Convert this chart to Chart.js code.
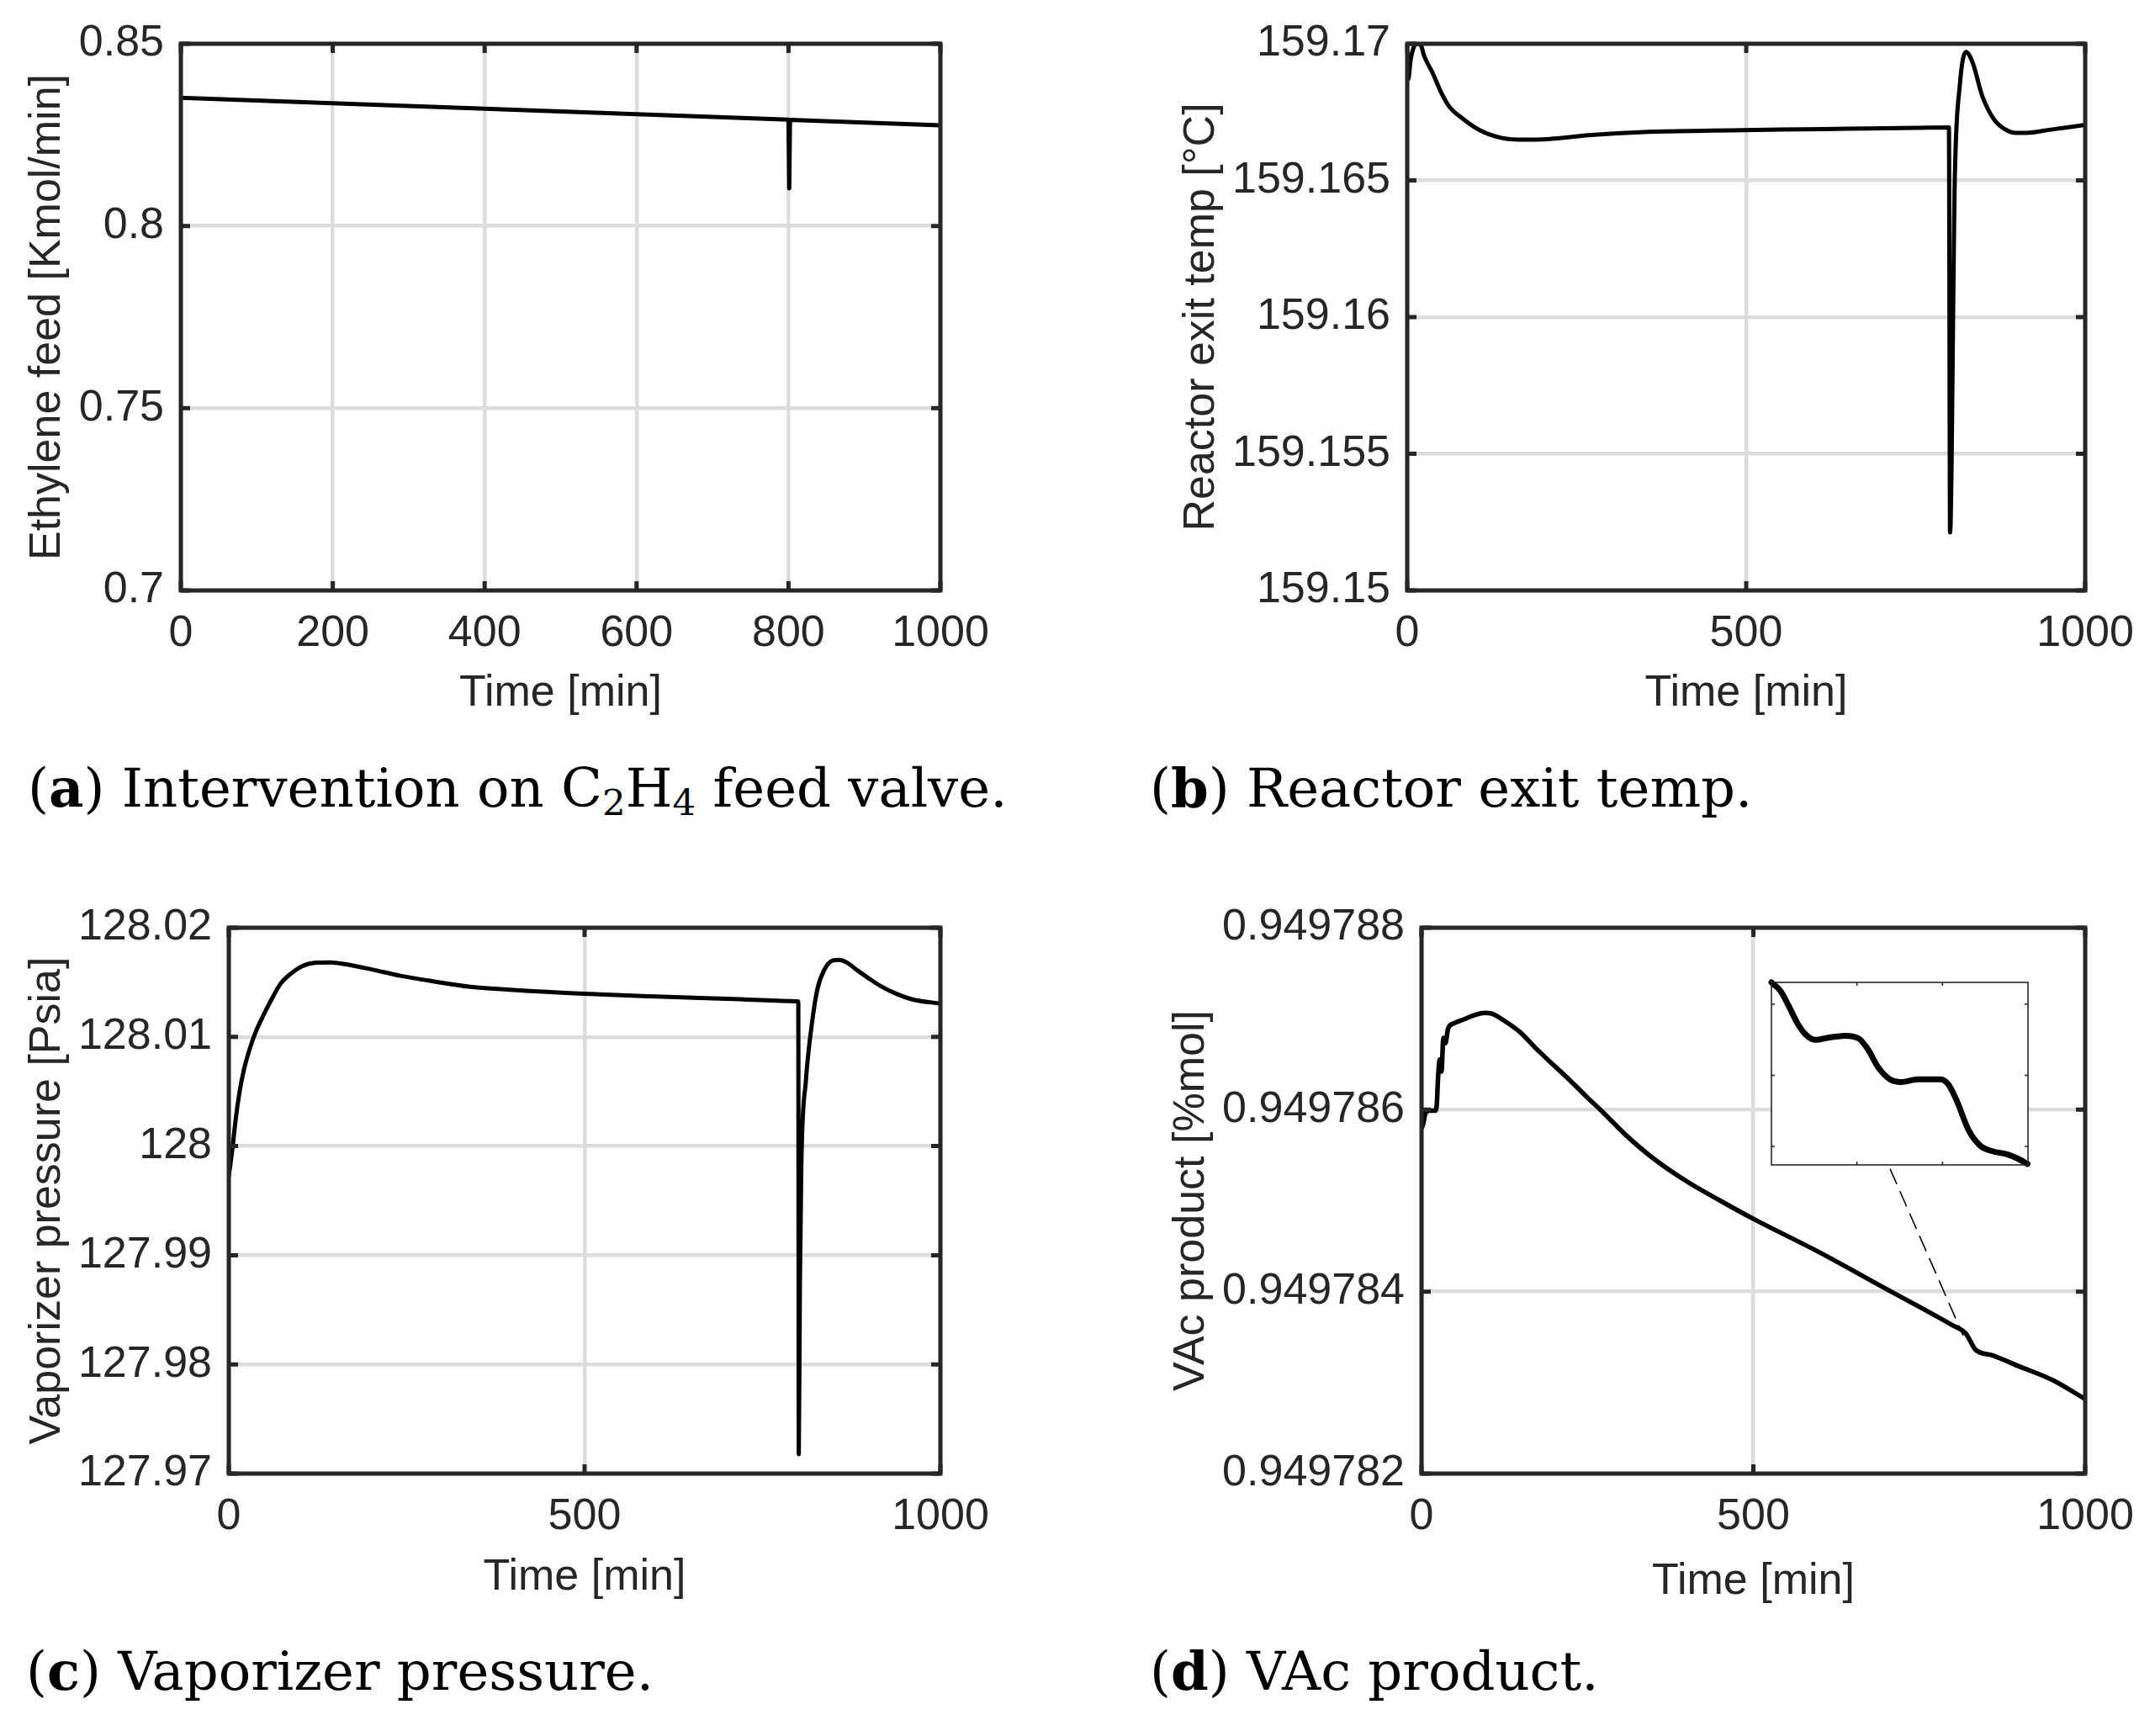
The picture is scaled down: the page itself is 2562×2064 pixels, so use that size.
<!DOCTYPE html>
<html>
<head>
<meta charset="utf-8">
<script src="https://cdn.jsdelivr.net/npm/chart.js@4.4.0/dist/chart.umd.min.js"></script>
<style>
  html, body { margin: 0; padding: 0; background: #fff; }
  body { width: 2562px; height: 2064px; position: relative; overflow: hidden; }
  canvas { position: absolute; }
  .cap { position: absolute; font-family: "DejaVu Serif", serif; font-size: 64px; line-height: 64px; color: #000; white-space: nowrap; }
  .cap sub { font-size: 0.68em; vertical-align: -0.22em; line-height: 0; }
</style>
</head>
<body>
<canvas id="cA"></canvas>
<canvas id="cB"></canvas>
<canvas id="cC"></canvas>
<canvas id="cD"></canvas>
<canvas id="cInset"></canvas>
<div class="cap" id="capA">(<b>a</b>) Intervention on C<sub>2</sub>H<sub>4</sub> feed valve.</div>
<div class="cap" id="capB">(<b>b</b>) Reactor exit temp.</div>
<div class="cap" id="capC">(<b>c</b>) Vaporizer pressure.</div>
<div class="cap" id="capD">(<b>d</b>) VAc product.</div>
<script>
// ---------------- DATA ----------------
// (a) Ethylene feed [Kmol/min]
const timeA = [0, 200, 400, 600, 800, 801, 802, 1000];
const feedA = [0.8352, 0.8337, 0.8322, 0.8307, 0.8292, 0.8103, 0.8291, 0.8276];
const xTicksA = [0, 200, 400, 600, 800, 1000];
const xLabelsA = ['0', '200', '400', '600', '800', '1000'];
const yTicksA = [0.7, 0.75, 0.8, 0.85];
const yLabelsA = ['0.7', '0.75', '0.8', '0.85'];

// (b) Reactor exit temp [°C]
const timeB = [0, 1.5, 5, 10, 15, 20, 25, 37.5, 50, 62, 83, 107.5, 140, 173, 206, 272, 355, 450, 550, 650, 750, 799,
               800.7, 807.7, 815, 824, 834, 848, 865, 881, 898, 914, 947, 1000];
const tempB = [159.1697, 159.1687, 159.1694, 159.1699, 159.1700, 159.16995, 159.16955, 159.16893, 159.16822, 159.1677,
               159.16724, 159.16683, 159.16655, 159.16649, 159.16651, 159.16666, 159.16678, 159.16682, 159.16686,
               159.16689, 159.16692, 159.16694,
               159.15212, 159.16506, 159.16846, 159.1697, 159.16931, 159.1681, 159.16725, 159.16688, 159.16674,
               159.16674, 159.16685, 159.16703];
const xTicksB = [0, 500, 1000];
const xLabelsB = ['0', '500', '1000'];
const yTicksB = [159.15, 159.155, 159.16, 159.165, 159.17];
const yLabelsB = ['159.15', '159.155', '159.16', '159.165', '159.17'];

// (c) Vaporizer pressure [Psia]
const timeC = [0, 5.5, 9.4, 15.2, 21.2, 29, 37, 48.7, 60.5, 72.3, 88, 103.8, 123.5, 143, 162.7, 202, 241, 280.7, 339.6,
               400, 500, 600, 718.7, 797.5, 800.3, 801, 802.6, 804.6, 811, 819, 827, 837, 849, 858, 868, 884, 900,
               916, 939, 963, 1000];
const presC = [127.99724, 127.99997, 128.00231, 128.00498, 128.00698, 128.00882, 128.01032, 128.01199, 128.01349,
               128.01483, 128.01583, 128.0165, 128.0168, 128.01683, 128.01667, 128.01616, 128.0156, 128.01516,
               128.01459, 128.0143, 128.01395, 128.0137, 128.01345, 128.01326, 128.01324, 127.97177, 127.98763,
               127.99831, 128.0060, 128.0110, 128.01433, 128.01616, 128.0170, 128.01706, 128.01683, 128.01606,
               128.01533, 128.01466, 128.01392, 128.01339, 128.01306];
const xTicksC = [0, 500, 1000];
const xLabelsC = ['0', '500', '1000'];
const yTicksC = [127.97, 127.98, 127.99, 128, 128.01, 128.02];
const yLabelsC = ['127.97', '127.98', '127.99', '128', '128.01', '128.02'];

// (d) VAc product [%mol]
const timeD = [0, 2, 6, 12, 21, 23, 25, 27.5, 30, 33, 36, 40, 49, 63, 80, 95, 106, 122, 148, 173, 199, 224, 249, 275,
               308, 350, 400, 450, 500, 600, 700, 800, 820, 835, 860, 900, 950, 1000];
const vacD = [0.9497858, 0.94978583, 0.94978596, 0.94978599, 0.94978599, 0.94978606, 0.94978636, 0.94978655,
              0.94978642, 0.94978679, 0.94978673, 0.94978689, 0.94978695, 0.94978699, 0.94978704, 0.949787065,
              0.949787055, 0.94978699, 0.949786855, 0.94978667, 0.94978649, 0.94978632, 0.94978614, 0.94978596,
              0.94978572, 0.94978546, 0.94978521, 0.949785, 0.9497848, 0.94978443, 0.94978403, 0.94978363,
              0.94978354, 0.94978336, 0.9497833, 0.94978318, 0.94978303, 0.94978282];
const xTicksD = [0, 500, 1000];
const xLabelsD = ['0', '500', '1000'];
const yTicksD = [0.949782, 0.949784, 0.949786, 0.949788];
const yLabelsD = ['0.949782', '0.949784', '0.949786', '0.949788'];
// dashed connector from the inset to the zoomed spot
const connT = [706, 816];
const connV = [0.94978535, 0.94978352];

// inset (zoom of the VAc curve)
const insetT = [810, 811.05, 812.04, 813.03, 813.99, 815.16, 816.63, 818.61, 820.23, 821.22, 822.54, 823.86, 825.15,
                827.13, 829.77, 830.73, 831.72, 833.04, 834.36, 835.68, 837.63, 838.95, 839.94];
const insetV = [0.9497835308, 0.949783519, 0.9497834972, 0.9497834735, 0.9497834576, 0.9497834499, 0.949783453,
                0.9497834558, 0.9497834517, 0.9497834378, 0.9497834104, 0.9497833944, 0.9497833906, 0.9497833944,
                0.9497833944, 0.9497833865, 0.9497833629, 0.9497833233, 0.9497833017, 0.9497832938, 0.9497832886,
                0.949783282, 0.9497832753];
const insetXRange = [810, 840];
const insetYRange = [0.949783274, 0.9497835308];
const insetXTicks = [820, 830];
const insetYTicks = [0.9497833, 0.9497834, 0.9497835];

// ---------------- LAYOUT / STYLE ----------------
const INK = '#262626';
const GRID = '#dcdcdc';
const FONT = { family: 'Liberation Sans, Arial, sans-serif', size: 52 };

function pts(ts, vs) { return ts.map((t, i) => ({ x: t, y: vs[i] })); }

const framePlugin = {
  id: 'frame',
  beforeDraw(chart, args, o) {
    if (!o.fillBg) return;
    const a = chart.chartArea, ctx = chart.ctx;
    ctx.save(); ctx.fillStyle = '#fff';
    ctx.fillRect(a.left, a.top, a.right - a.left, a.bottom - a.top);
    ctx.restore();
  },
  afterDraw(chart, args, o) {
    const { ctx, chartArea: a, scales: { x, y } } = chart;
    ctx.save();
    ctx.strokeStyle = INK;
    ctx.lineWidth = o.tickWidth;
    ctx.lineCap = 'butt';
    const L = o.tickLen;
    ctx.beginPath();
    (o.xTicks || x.ticks.map(t => t.value)).forEach(v => {
      const px = x.getPixelForValue(v);
      ctx.moveTo(px, a.bottom); ctx.lineTo(px, a.bottom - L);
      ctx.moveTo(px, a.top); ctx.lineTo(px, a.top + L);
    });
    (o.yTicks || y.ticks.map(t => t.value)).forEach(v => {
      const py = y.getPixelForValue(v);
      ctx.moveTo(a.left, py); ctx.lineTo(a.left + L, py);
      ctx.moveTo(a.right, py); ctx.lineTo(a.right - L, py);
    });
    ctx.stroke();
    ctx.lineWidth = o.width;
    ctx.lineJoin = 'miter';
    ctx.strokeRect(a.left, a.top, a.right - a.left, a.bottom - a.top);
    ctx.restore();
  }
};

function place(id, left, top, w, h) {
  const c = document.getElementById(id);
  c.width = w; c.height = h;
  c.style.left = left + 'px'; c.style.top = top + 'px';
  c.style.width = w + 'px'; c.style.height = h + 'px';
  return c;
}

function panel(p) {
  const c = place(p.id, p.left, p.top, p.w, p.h);
  const lh = FONT.size * 1.2 / 2;
  const ds = {
    data: pts(p.t, p.v), borderColor: '#000', borderWidth: p.lw || 5, pointRadius: 0,
    fill: false, borderJoinStyle: 'round', borderCapStyle: 'round'
  };
  if (p.straight) { ds.tension = 0; } else { ds.cubicInterpolationMode = 'monotone'; }
  const datasets = [ds];
  if (p.extra) datasets.push(p.extra);
  return new Chart(c, {
    type: 'line',
    data: { datasets },
    options: {
      responsive: false, animation: false, devicePixelRatio: 1,
      layout: { padding: { left: 0, top: p.plot.top, right: p.w - p.plot.right, bottom: 0 } },
      plugins: { legend: { display: false }, tooltip: { enabled: false },
                 frame: { width: 5, tickWidth: 5, tickLen: 11 } },
      scales: {
        x: {
          type: 'linear', min: p.xMin, max: p.xMax,
          afterBuildTicks: s => { s.ticks = p.xTicks.map(v => ({ value: v })); },
          afterFit: s => { s.height = p.h - p.plot.bottom; },
          ticks: { font: FONT, color: INK, padding: 20, maxRotation: 0, autoSkip: false,
                   callback: (v, i) => p.xLabels[i] },
          grid: { color: GRID, lineWidth: 4.5, drawTicks: false },
          border: { display: false },
          title: { display: true, text: p.xTitle, font: FONT, color: INK,
                   padding: { top: 0, bottom: p.h - p.xTitleY - lh } }
        },
        y: {
          type: 'linear', min: p.yMin, max: p.yMax,
          afterBuildTicks: s => { s.ticks = p.yTicks.map(v => ({ value: v })); },
          afterFit: s => { s.width = p.plot.left; },
          ticks: { font: FONT, color: INK, padding: 20, autoSkip: false,
                   callback: (v, i) => p.yLabels[i] },
          grid: { color: GRID, lineWidth: 4.5, drawTicks: false },
          border: { display: false },
          title: { display: true, text: p.yTitle, font: FONT, color: INK,
                   padding: { top: p.yTitleX - lh, bottom: 0 } }
        }
      }
    },
    plugins: [framePlugin]
  });
}

panel({ id: 'cA', left: 0, top: 0, w: 1281, h: 880, straight: true,
  plot: { left: 215, top: 52, right: 1118, bottom: 702 }, yTitleX: 57, xTitleY: 825,
  t: timeA, v: feedA, xMin: 0, xMax: 1000, yMin: 0.7, yMax: 0.85,
  xTicks: xTicksA, xLabels: xLabelsA, yTicks: yTicksA, yLabels: yLabelsA,
  xTitle: 'Time [min]', yTitle: 'Ethylene feed [Kmol/min]' });

panel({ id: 'cB', left: 1281, top: 0, w: 1281, h: 880,
  plot: { left: 392, top: 52, right: 1198, bottom: 702 }, yTitleX: 148, xTitleY: 825,
  t: timeB, v: tempB, xMin: 0, xMax: 1000, yMin: 159.15, yMax: 159.17,
  xTicks: xTicksB, xLabels: xLabelsB, yTicks: yTicksB, yLabels: yLabelsB,
  xTitle: 'Time [min]', yTitle: 'Reactor exit temp [°C]' });

panel({ id: 'cC', left: 0, top: 1032, w: 1281, h: 880,
  plot: { left: 272, top: 71, right: 1118, bottom: 720 }, yTitleX: 57, xTitleY: 844,
  t: timeC, v: presC, xMin: 0, xMax: 1000, yMin: 127.97, yMax: 128.02,
  xTicks: xTicksC, xLabels: xLabelsC, yTicks: yTicksC, yLabels: yLabelsC,
  xTitle: 'Time [min]', yTitle: 'Vaporizer pressure [Psia]' });

panel({ id: 'cD', left: 1281, top: 1032, w: 1281, h: 880,
  plot: { left: 409, top: 71, right: 1198, bottom: 720 }, yTitleX: 136, xTitleY: 849,
  t: timeD, v: vacD, lw: 5.5, xMin: 0, xMax: 1000, yMin: 0.949782, yMax: 0.949788,
  xTicks: xTicksD, xLabels: xLabelsD, yTicks: yTicksD, yLabels: yLabelsD,
  xTitle: 'Time [min]', yTitle: 'VAc product [%mol]',
  extra: { data: pts(connT, connV), borderColor: '#000', borderWidth: 1.6, borderDash: [20, 9],
           pointRadius: 0, fill: false, tension: 0 } });

// Inset chart
(function () {
  const pad = 8;
  const box = { left: 2106, top: 1168, right: 2411, bottom: 1385 };
  const c = place('cInset', box.left - pad, box.top - pad,
                  box.right - box.left + 2 * pad, box.bottom - box.top + 2 * pad);
  new Chart(c, {
    type: 'line',
    data: { datasets: [{ data: pts(insetT, insetV), borderColor: '#000', borderWidth: 7, pointRadius: 0,
                         fill: false, cubicInterpolationMode: 'monotone', borderCapStyle: 'round',
                         borderJoinStyle: 'round', clip: pad }] },
    options: {
      responsive: false, animation: false, devicePixelRatio: 1,
      layout: { padding: pad },
      plugins: { legend: { display: false }, tooltip: { enabled: false },
                 frame: { width: 1.6, tickWidth: 1.6, tickLen: 4, fillBg: true,
                          xTicks: insetXTicks, yTicks: insetYTicks } },
      scales: {
        x: { type: 'linear', display: false, min: insetXRange[0], max: insetXRange[1] },
        y: { type: 'linear', display: false, min: insetYRange[0], max: insetYRange[1] }
      }
    },
    plugins: [framePlugin]
  });
})();

// captions
function cap(id, left, top) { const e = document.getElementById(id); e.style.left = left + 'px'; e.style.top = top + 'px'; }
cap('capA', 33, 905);
cap('capB', 1367, 905);
cap('capC', 31, 1955);
cap('capD', 1367, 1955);
</script>
</body>
</html>
